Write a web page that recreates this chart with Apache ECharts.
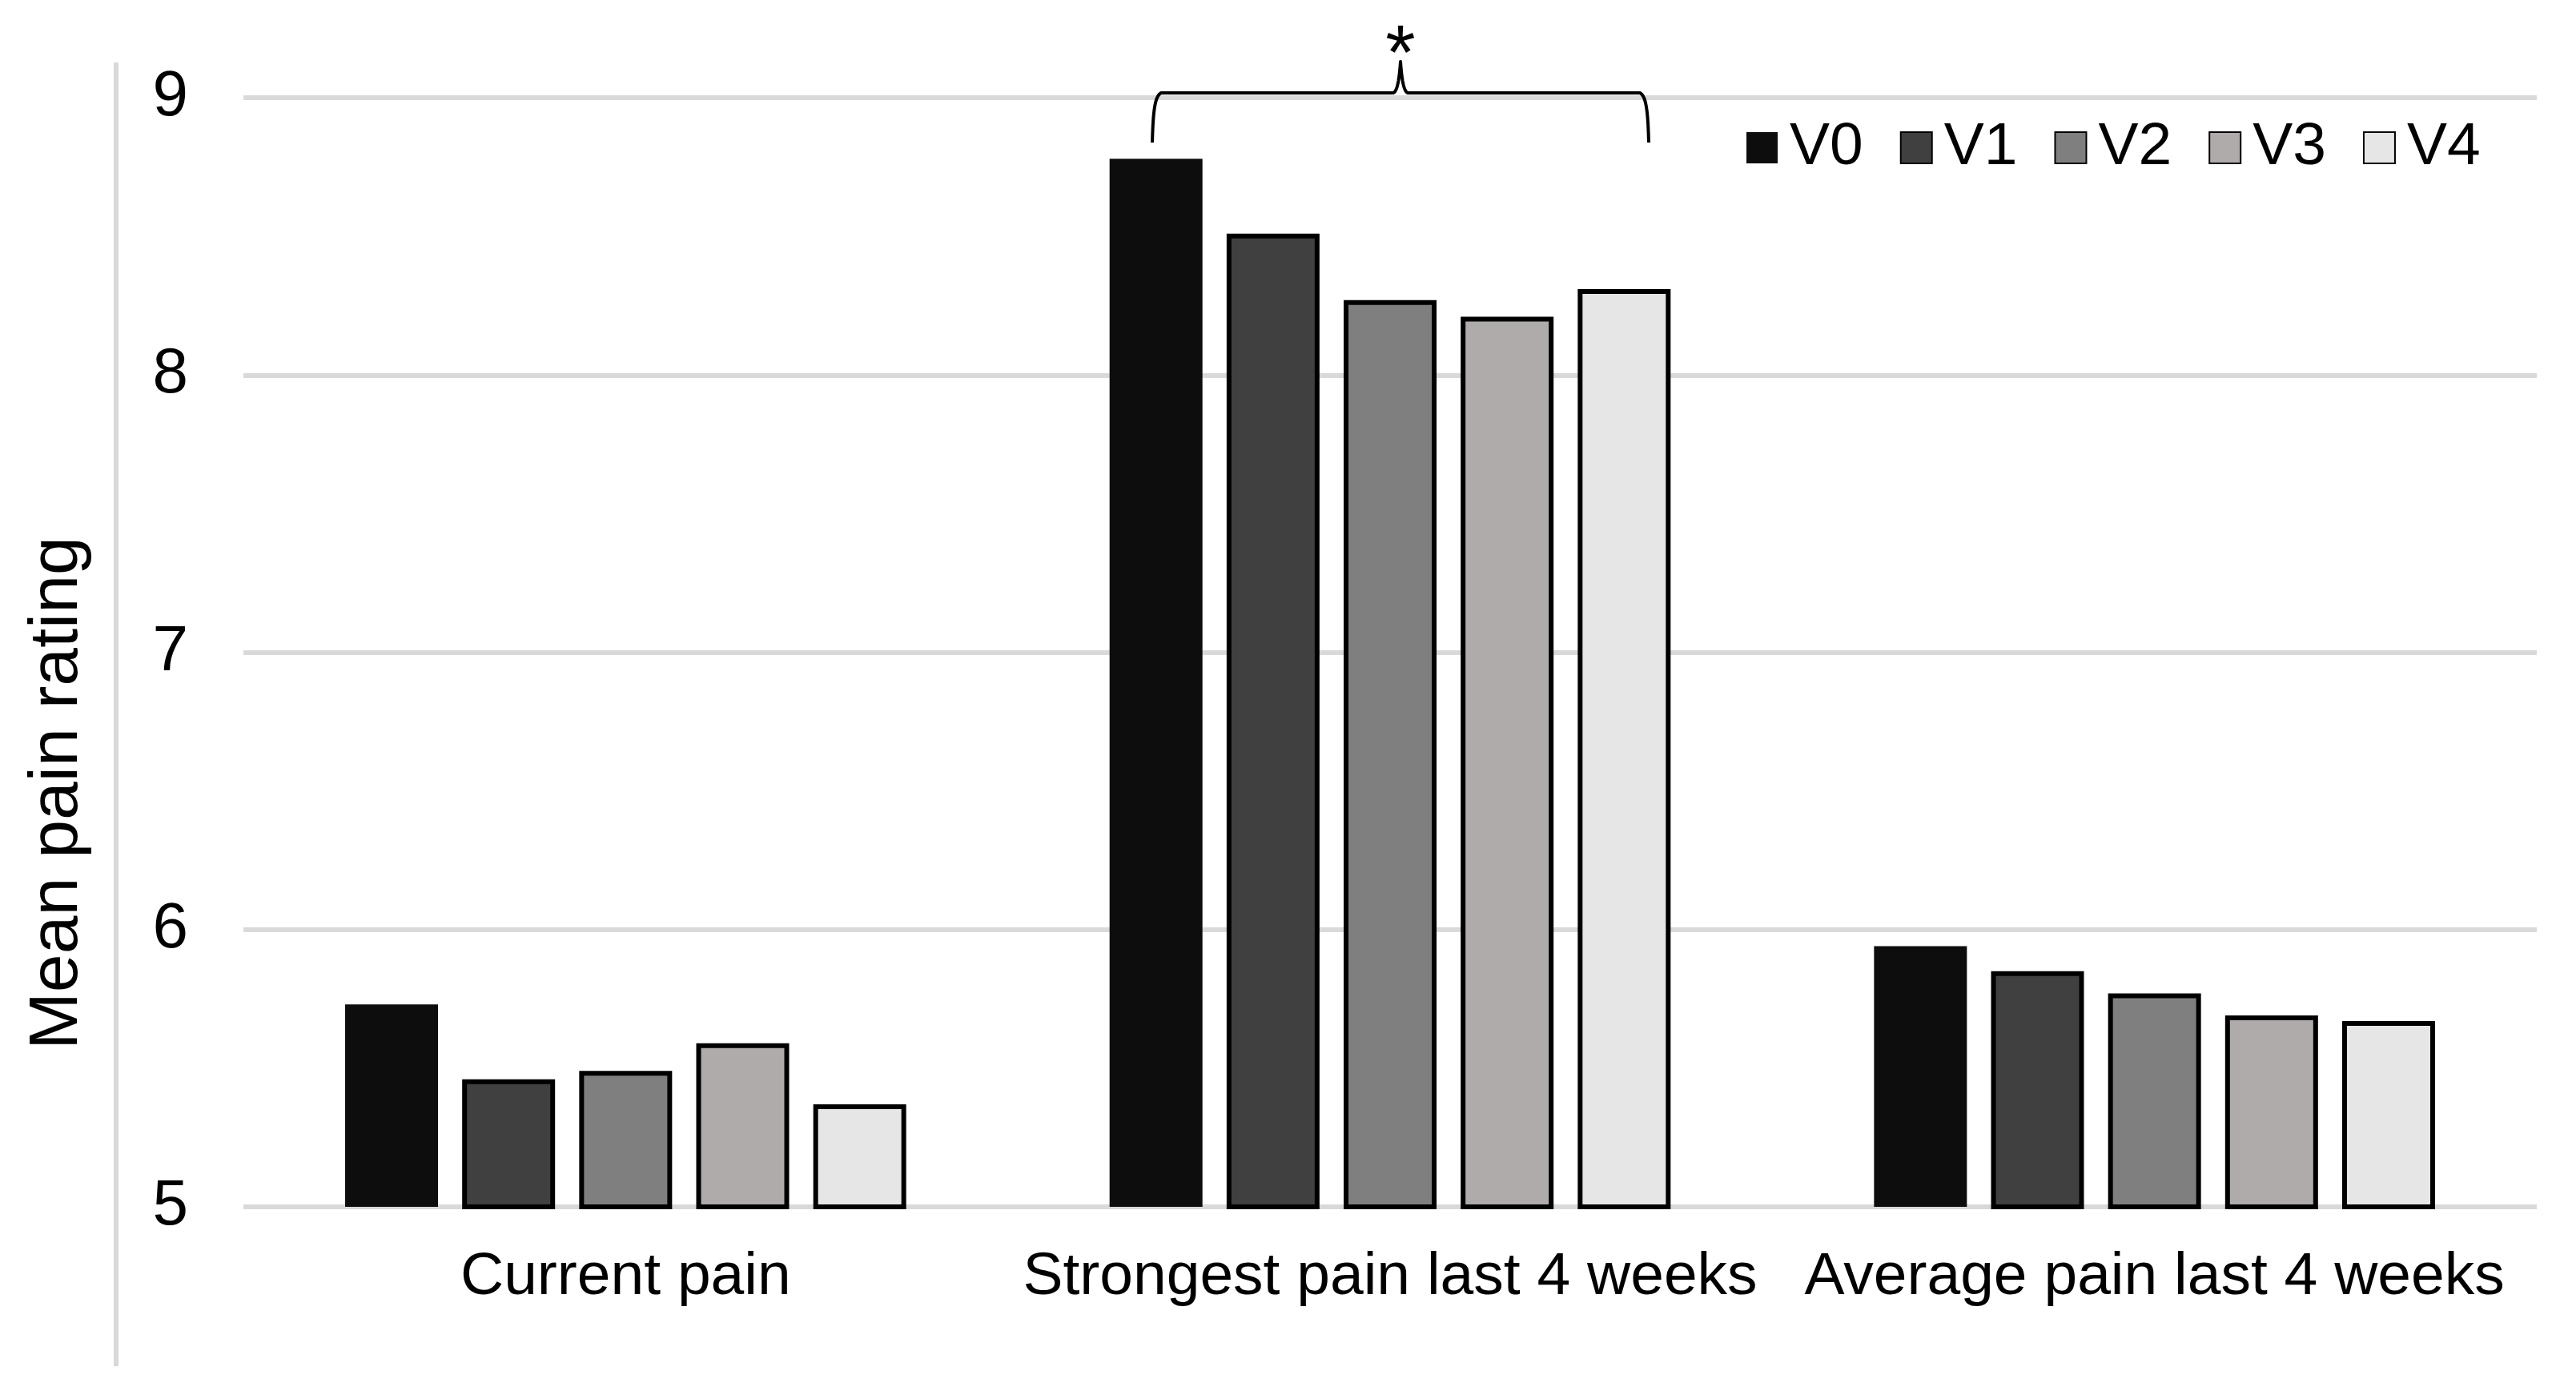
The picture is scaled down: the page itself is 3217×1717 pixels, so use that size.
<!DOCTYPE html>
<html>
<head>
<meta charset="utf-8">
<script src="https://cdn.jsdelivr.net/npm/echarts@6/dist/echarts.min.js"></script>
<style>
html,body{margin:0;padding:0;background:#fff;}
#chart{width:3217px;height:1717px;}
</style>
</head>
<body>
<div id="chart"></div>
<script>
// ---- data ----
const categories = ['Current pain', 'Strongest pain last 4 weeks', 'Average pain last 4 weeks'];
const seriesNames = ['V0', 'V1', 'V2', 'V3', 'V4'];
const V0 = [5.73, 8.78, 5.94];
const V1 = [5.46, 8.51, 5.85];
const V2 = [5.49, 8.27, 5.77];
const V3 = [5.59, 8.21, 5.69];
const V4 = [5.37, 8.31, 5.67];
const yTicks = [5, 6, 7, 8, 9];
const yAxisTitle = 'Mean pain rating';
const annotationText = '*';

const seriesValues = [V0, V1, V2, V3, V4];
const fills = ['#0d0d0d', '#404040', '#7f7f7f', '#afabab', '#e6e6e6'];
const FONT = "'Liberation Sans', Arial, sans-serif";

const chart = echarts.init(document.getElementById('chart'), null, {renderer: 'canvas'});

const series = seriesNames.map((name, i) => ({
  name: name,
  type: 'bar',
  data: seriesValues[i],
  barWidth: 116,
  barGap: '26%',
  itemStyle: {
    color: fills[i],
    borderColor: '#000',
    borderWidth: i === 0 ? 0 : 6
  },
  emphasis: {disabled: true}
}));

chart.setOption({
  animation: false,
  backgroundColor: '#fff',
  grid: {left: 304, right: 49, top: 122, bottom: 210, containLabel: false},
  legend: {
    data: seriesNames,
    left: 2176,
    top: 142,
    itemWidth: 39,
    itemHeight: 39,
    itemGap: 46,
    icon: 'rect',
    textStyle: {fontFamily: FONT, fontSize: 75, color: '#000', padding: [0, 0, 0, 10]},
    selectedMode: false
  },
  xAxis: {
    type: 'category',
    data: categories,
    axisLine: {show: false},
    axisTick: {show: false},
    axisLabel: {fontFamily: FONT, fontSize: 75, color: '#000', margin: 51, interval: 0}
  },
  yAxis: {
    type: 'value',
    min: yTicks[0],
    max: yTicks[yTicks.length - 1],
    interval: 1,
    name: yAxisTitle,
    nameLocation: 'middle',
    nameGap: 189,
    nameTextStyle: {fontFamily: FONT, fontSize: 86, color: '#000', padding: [0, 352, 0, 0]},
    axisLine: {show: false},
    axisTick: {show: false},
    axisLabel: {fontFamily: FONT, fontSize: 80, color: '#000', margin: 69},
    splitLine: {lineStyle: {color: '#d9d9d9', width: 6}}
  },
  series: series
});

// ---- significance brace anchored on the axes ----
const cx = chart.convertToPixel({xAxisIndex: 0}, categories[1]);
const y9 = chart.convertToPixel({yAxisIndex: 0}, yTicks[yTicks.length - 1]);
const xL = cx - 297, xR = cx + 323, xP = cx + 13;
const yTop = y9 - 6, yEnd = y9 + 56, yPeak = y9 - 45;

function cubic(p0, p1, p2, p3, n) {
  const pts = [];
  for (let k = 0; k <= n; k++) {
    const t = k / n, u = 1 - t;
    pts.push([
      u*u*u*p0[0] + 3*u*u*t*p1[0] + 3*u*t*t*p2[0] + t*t*t*p3[0],
      u*u*u*p0[1] + 3*u*u*t*p1[1] + 3*u*t*t*p2[1] + t*t*t*p3[1]
    ]);
  }
  return pts;
}
let bracePts = [];
bracePts = bracePts.concat(cubic([xL, yEnd], [xL + 1, yTop + 24], [xL + 3, yTop + 4], [xL + 11, yTop], 20));
bracePts = bracePts.concat(cubic([xP - 9, yTop], [xP - 3, yTop - 2], [xP - 1, yPeak + 14], [xP, yPeak], 20));
bracePts = bracePts.concat(cubic([xP, yPeak], [xP + 1, yPeak + 14], [xP + 3, yTop - 2], [xP + 9, yTop], 20).slice(1));
bracePts = bracePts.concat(cubic([xR - 11, yTop], [xR - 3, yTop + 4], [xR - 1, yTop + 24], [xR, yEnd], 20));

chart.setOption({
  graphic: [
    {
      type: 'line',
      shape: {x1: 145, y1: 78, x2: 145, y2: 1706},
      style: {stroke: '#d9d9d9', lineWidth: 6},
      silent: true
    },
    {
      type: 'polyline',
      shape: {points: bracePts},
      style: {fill: null, stroke: '#000', lineWidth: 4, lineJoin: 'round'},
      silent: true
    },
    {
      type: 'text',
      x: xP,
      y: yPeak - 5,
      style: {text: annotationText, fontFamily: FONT, fontSize: 96, fill: '#000', align: 'center', verticalAlign: 'middle'},
      silent: true
    }
  ]
});
</script>
</body>
</html>
